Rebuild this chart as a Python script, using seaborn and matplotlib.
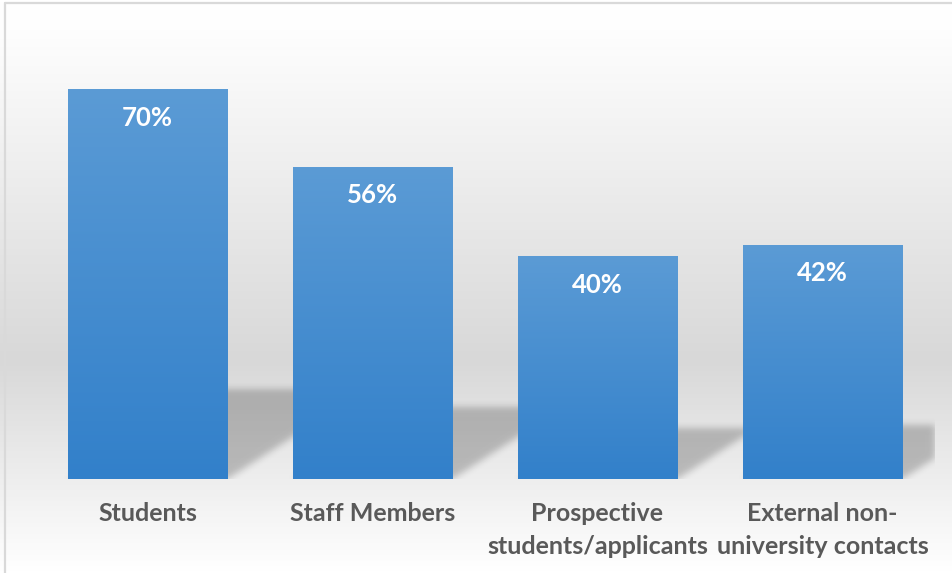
import numpy as np
import pandas as pd
import matplotlib
matplotlib.use("Agg")
import matplotlib.pyplot as plt
from matplotlib.colors import LinearSegmentedColormap
from matplotlib.lines import Line2D
import seaborn as sns

# --- data -------------------------------------------------------------
categories = ["Students", "Staff Members", "Prospective\nstudents/applicants",
              "External non-\nuniversity contacts"]
values = [70, 56, 40, 42]
value_labels = ["70%", "56%", "40%", "42%"]

# --- style ------------------------------------------------------------
sns.set_theme(style="white")
plt.rcParams["font.family"] = ["Lato", "DejaVu Sans"]

W, H, DPI = 953, 573, 100
fig = plt.figure(figsize=(W / DPI, H / DPI), dpi=DPI)

# chart-area background: vertical white -> grey -> white gradient
bg_ax = fig.add_axes([0, 0, 1, 1], zorder=-10)
bg_cmap = LinearSegmentedColormap.from_list(
    "bg", [(0.0, "#ffffff"), (0.05, "#fefefe"), (0.63, "#d8d8d8"), (1.0, "#ffffff")])
grad = np.linspace(0, 1, 400).reshape(-1, 1)
bg_ax.imshow(grad, cmap=bg_cmap, aspect="auto", extent=(0, 1, 0, 1), origin="upper")
bg_ax.set_axis_off()

# plot area
ymax = 80
ax_left, ax_right = 35 / W, 935 / W
ax_bottom = (H - 479) / H
ax_height = (ymax * 5.571) / H
ax = fig.add_axes([ax_left, ax_bottom, ax_right - ax_left, ax_height])
ax.set_facecolor("none")

df = pd.DataFrame({"category": categories, "value": values})
sns.barplot(data=df, x="category", y="value", color="#4a8fd0", saturation=1,
            width=0.71, ax=ax, zorder=3)
ax.set_xlim(-0.5, len(categories) - 0.5)
ax.set_ylim(0, ymax)

# perspective shadows cast behind each bar (sheared, squashed, blurred)
nx = int(round((ax_right - ax_left) * W))
ny = int(round(ax_height * H))
xs = -0.5 + (np.arange(nx) + 0.5) / nx * len(categories)
ys = (np.arange(ny) + 0.5) / ny * ymax
X, Y = np.meshgrid(xs, ys)
px_per_x = nx / len(categories)
px_per_y = ny / ymax
skew = 1.55 * px_per_y / px_per_x   # horizontal shift per unit of height
squash = 0.23
mask = np.zeros_like(X)
for p, v in zip(ax.patches, values):
    xl, xr = p.get_x(), p.get_x() + p.get_width()
    sh = squash * v
    inside = (Y <= sh) & (X >= xl + skew * Y) & (X <= xr + skew * Y)
    mask[inside] = 1.0


def blur(a, sigma):
    r = int(3 * sigma)
    t = np.arange(-r, r + 1)
    k = np.exp(-t ** 2 / (2 * sigma ** 2))
    k /= k.sum()
    a = np.apply_along_axis(lambda m: np.convolve(m, k, mode="same"), 0, a)
    a = np.apply_along_axis(lambda m: np.convolve(m, k, mode="same"), 1, a)
    return a


mask = blur(mask, 3.5)
rgba = np.zeros((ny, nx, 4))
rgba[..., 3] = 0.22 * mask
ax.imshow(rgba, extent=(-0.5, len(categories) - 0.5, 0, ymax), origin="lower",
          aspect="auto", zorder=2, interpolation="bilinear")

# vertical gradient fill on each bar
bar_cmap = LinearSegmentedColormap.from_list("bar", ["#3280ca", "#5b9bd5"])
for p in ax.patches:
    x0, w, h = p.get_x(), p.get_width(), p.get_height()
    g = np.linspace(0, 1, 256).reshape(-1, 1)
    im = ax.imshow(g, cmap=bar_cmap, extent=(x0, x0 + w, 0, h), origin="lower",
                   aspect="auto", zorder=4)
    im.set_clip_path(p)
    p.set_edgecolor("none")

ax.set_xlim(-0.5, len(categories) - 0.5)
ax.set_ylim(0, ymax)

# value labels inside the top of each bar
for i, (v, lab) in enumerate(zip(values, value_labels)):
    ax.annotate(lab, xy=(i, v), xytext=(0, -20.5), textcoords="offset points",
                ha="center", va="center", color="white", fontsize=18.5,
                fontweight="bold", zorder=6)

# axes cosmetics
ax.set_xlabel("")
ax.set_ylabel("")
ax.set_yticks([])
ax.set_xticks(range(len(categories)))
ax.set_xticklabels(categories, fontsize=18, fontweight="bold", color="#595959",
                   linespacing=1.55)
ax.tick_params(axis="x", length=0, pad=16.5)
for s in ax.spines.values():
    s.set_visible(False)

# chart border (top and left edges)
fig.add_artist(Line2D([5.5 / W, 1], [1 - 2.5 / H, 1 - 2.5 / H],
                      transform=fig.transFigure, color="#d9d9d9", lw=1.6))
fig.add_artist(Line2D([5.5 / W, 5.5 / W], [0, 1 - 2.5 / H],
                      transform=fig.transFigure, color="#d9d9d9", lw=1.6))

fig.savefig("out.png", dpi=DPI)
